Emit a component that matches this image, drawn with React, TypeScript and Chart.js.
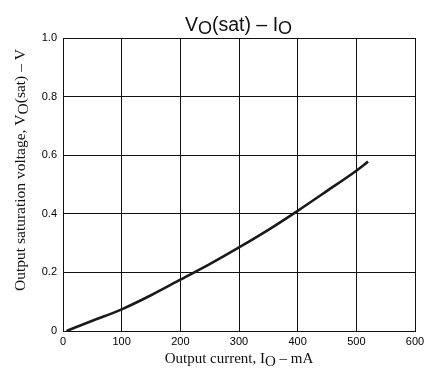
import React, { useEffect, useRef } from "react";
import { Chart, registerables } from "chart.js";

Chart.register(...registerables);

// Data
const currentMA = [6, 50, 100, 150, 200, 250, 300, 350, 400, 450, 500, 520];
const voltageV = [0, 0.035, 0.074, 0.122, 0.175, 0.228, 0.285, 0.345, 0.41, 0.478, 0.547, 0.578];

const xTicks = [0, 100, 200, 300, 400, 500, 600];
const yTicks = [0, 0.2, 0.4, 0.6, 0.8, 1.0];

type Part = { text: string; sub?: boolean };

const titleParts: Part[] = [
  { text: "V" },
  { text: "O", sub: true },
  { text: "(sat) – I" },
  { text: "O", sub: true },
];
const xTitleParts: Part[] = [
  { text: "Output current, I" },
  { text: "O", sub: true },
  { text: " – mA" },
];
const yTitleParts: Part[] = [
  { text: "Output saturation voltage, V" },
  { text: "O", sub: true },
  { text: "(sat) – V" },
];

function drawRich(
  ctx: CanvasRenderingContext2D,
  parts: Part[],
  cx: number,
  baseline: number,
  family: string,
  size: number,
  subSize: number,
  subDrop: number
) {
  const fontMain = `${size}px ${family}`;
  const fontSub = `${subSize}px ${family}`;
  let total = 0;
  const widths = parts.map((p) => {
    ctx.font = p.sub ? fontSub : fontMain;
    const w = ctx.measureText(p.text).width;
    total += w;
    return w;
  });
  let x = cx - total / 2;
  ctx.textAlign = "left";
  ctx.textBaseline = "alphabetic";
  parts.forEach((p, i) => {
    ctx.font = p.sub ? fontSub : fontMain;
    ctx.fillText(p.text, x, baseline + (p.sub ? subDrop : 0));
    x += widths[i];
  });
}

const titlesPlugin = {
  id: "richTitles",
  afterDraw(chart: any) {
    const ctx: CanvasRenderingContext2D = chart.ctx;
    const area = chart.chartArea;
    ctx.save();
    ctx.fillStyle = "#111";
    drawRich(ctx, titleParts, 238.5, 31, '"Liberation Sans", Arial, sans-serif', 19.5, 18, 3);
    drawRich(ctx, xTitleParts, (area.left + area.right) / 2, 363, '"Liberation Serif", "Times New Roman", serif', 15, 15, 3);
    ctx.translate(25, 170);
    ctx.rotate(-Math.PI / 2);
    drawRich(ctx, yTitleParts, 0, 0, '"Liberation Serif", "Times New Roman", serif', 15.5, 15.5, 3);
    ctx.restore();
  },
};

export default function App() {
  const canvasRef = useRef<HTMLCanvasElement | null>(null);

  useEffect(() => {
    if (!canvasRef.current) return;
    const chart = new Chart(canvasRef.current, {
      type: "line",
      data: {
        datasets: [
          {
            data: currentMA.map((x, i) => ({ x, y: voltageV[i] })),
            borderColor: "#1a1a1a",
            borderWidth: 2.6,
            pointRadius: 0,
            tension: 0.4,
            cubicInterpolationMode: "monotone",
            fill: false,
          },
        ],
      },
      options: {
        animation: false,
        responsive: true,
        maintainAspectRatio: false,
        layout: { padding: { left: 0, top: 38, right: 23, bottom: 0 } },
        plugins: {
          legend: { display: false },
          tooltip: { enabled: false },
          title: { display: false },
        },
        scales: {
          x: {
            type: "linear",
            min: 0,
            max: 600,
            afterBuildTicks: (s: any) => {
              s.ticks = xTicks.map((v) => ({ value: v }));
            },
            afterFit: (s: any) => {
              s.height = 46;
            },
            ticks: {
              padding: 4,
              color: "#000",
              font: { family: '"Liberation Sans", Arial, sans-serif', size: 11 },
              maxRotation: 0,
              callback: (v: any) => String(v),
            },
            grid: { color: "#111", lineWidth: 1, drawTicks: false },
            border: { display: true, color: "#111", width: 1 },
          },
          y: {
            type: "linear",
            min: 0,
            max: 1,
            afterBuildTicks: (s: any) => {
              s.ticks = yTicks.map((v) => ({ value: v }));
            },
            afterFit: (s: any) => {
              s.width = 63;
            },
            ticks: {
              padding: 6,
              color: "#000",
              font: { family: '"Liberation Sans", Arial, sans-serif', size: 11 },
              callback: (v: any) => (Number(v) === 0 ? "0" : Number(v).toFixed(1)),
            },
            grid: { color: "#111", lineWidth: 1, drawTicks: false },
            border: { display: true, color: "#111", width: 1 },
          },
        },
      },
      plugins: [titlesPlugin],
    } as any);
    return () => chart.destroy();
  }, []);

  return (
    <div style={{ position: "absolute", left: 0, top: 0, width: 438, height: 377, background: "#fff" }}>
      <canvas ref={canvasRef} />
    </div>
  );
}
